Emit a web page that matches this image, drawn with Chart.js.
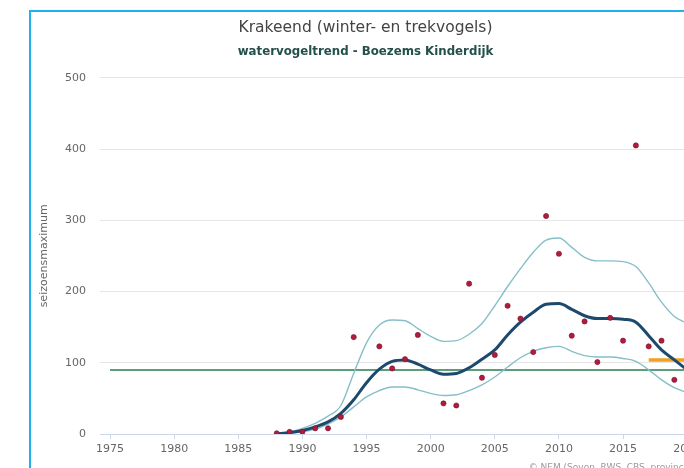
<!DOCTYPE html>
<html>
<head>
<meta charset="utf-8">
<script src="https://cdn.jsdelivr.net/npm/chart.js@4/dist/chart.umd.min.js"></script>
<style>
  html, body { margin: 0; padding: 0; background: #fff; overflow: hidden; }
  #box {
    position: absolute; left: 29px; top: 10px;
    width: 682px; height: 470px;
    border: 2px solid #1eb1ee; box-sizing: border-box;
  }
  #box canvas { position: absolute; left: 0; top: 0; }
  #credits {
    position: absolute; right: 9px; top: 450px;
    font: 9px "DejaVu Sans", sans-serif; color: #999; white-space: nowrap;
  }
</style>
</head>
<body>
<div id="box">
  <canvas id="trendChart"></canvas>
  <div id="credits">© NEM (Sovon, RWS, CBS, provincies)</div>
</div>
<script>
// seizoensmaxima per jaar (telling)
const countYears = [1988, 1989, 1990, 1991, 1992, 1993, 1994, 1996, 1997, 1998, 1999,
  2001, 2002, 2003, 2004, 2005, 2006, 2007, 2008, 2009, 2010,
  2011, 2012, 2013, 2014, 2015, 2016, 2017, 2018, 2019];
const counts = [1, 3, 3, 8, 8, 24, 136, 123, 92, 105, 139,
  43, 40, 211, 79, 111, 180, 162, 115, 306, 253,
  138, 158, 101, 163, 131, 405, 123, 131, 76];

// trendlijn met betrouwbaarheidsband
const trendYears = [1988, 1989, 1990, 1991, 1992, 1993, 1994, 1995, 1996, 1997, 1998, 1999,
  2000, 2001, 2002, 2003, 2004, 2005, 2006, 2007, 2008, 2009, 2010,
  2011, 2012, 2013, 2014, 2015, 2016, 2017, 2018, 2019, 2020];
const trend = [0, 2, 5, 10, 17, 29, 48, 72, 91, 102, 104, 98,
  90, 84, 85, 93, 105, 118, 139, 157, 171, 182, 183,
  175, 166, 162, 162, 161, 157, 138, 118, 104, 90];
const upper = [0, 3, 8, 15, 25, 40, 85, 128, 153, 160, 159, 148,
  137, 130, 131, 140, 155, 180, 207, 232, 255, 272, 275,
  262, 248, 243, 243, 242, 235, 212, 185, 165, 155];
const lower = [0, 1, 3, 7, 14, 24, 38, 52, 61, 66, 66, 62,
  57, 54, 55, 61, 69, 80, 94, 107, 116, 121, 123,
  116, 110, 108, 108, 106, 102, 90, 76, 65, 58];

// referentieniveau en recent gemiddelde
const refYears = [1975, 2021];
const refLevel = [90, 90];
const recentYears = [2017, 2021];
const recentLevel = [104, 104];

const pts = (xs, ys) => xs.map((x, i) => ({ x: x, y: ys[i] }));
const fontFam = '"DejaVu Sans", Verdana, sans-serif';

new Chart(document.getElementById('trendChart'), {
  type: 'line',
  data: {
    datasets: [
      {
        type: 'scatter',
        data: pts(countYears, counts),
        showLine: false,
        pointRadius: 2.6,
        pointBackgroundColor: '#b01c3c',
        pointBorderColor: '#7a1030',
        pointBorderWidth: 0.6,
        order: 0
      },
      {
        data: pts(trendYears, trend),
        borderColor: '#1d4a6c',
        borderWidth: 3,
        pointRadius: 0,
        cubicInterpolationMode: 'monotone',
        order: 1
      },
      {
        data: pts(trendYears, upper),
        borderColor: '#86bfc8',
        borderWidth: 1.4,
        pointRadius: 0,
        cubicInterpolationMode: 'monotone',
        order: 2
      },
      {
        data: pts(trendYears, lower),
        borderColor: '#86bfc8',
        borderWidth: 1.4,
        pointRadius: 0,
        cubicInterpolationMode: 'monotone',
        order: 2
      },
      {
        data: pts(recentYears, recentLevel),
        borderColor: '#f0a21e',
        borderWidth: 3.5,
        pointRadius: 0,
        order: 2
      },
      {
        data: pts(refYears, refLevel),
        borderColor: '#5e9c7c',
        borderWidth: 2,
        pointRadius: 0,
        order: 3
      }
    ]
  },
  options: {
    responsive: true,
    maintainAspectRatio: false,
    animation: false,
    layout: { padding: { left: 0, right: 9, top: 0, bottom: 14 } },
    plugins: {
      legend: { display: false },
      tooltip: { enabled: false },
      title: {
        display: true,
        text: 'Krakeend (winter- en trekvogels)',
        color: '#444',
        font: { family: fontFam, size: 15.5, weight: 'normal' },
        padding: { top: 7, bottom: 0 }
      },
      subtitle: {
        display: true,
        text: 'watervogeltrend - Boezems Kinderdijk',
        color: '#24504c',
        font: { family: fontFam, size: 11.8, weight: 'bold' },
        padding: { top: 7, bottom: 19 }
      }
    },
    scales: {
      x: {
        type: 'linear',
        min: 1974.22,
        max: 2021,
        ticks: {
          stepSize: 5,
          includeBounds: false,
          padding: 4,
          color: '#666',
          font: { family: fontFam, size: 11 },
          callback: v => String(v)
        },
        grid: { drawOnChartArea: false, drawTicks: true, tickLength: 5, color: '#ccd6eb' },
        border: { color: '#ccd6eb' },
        afterFit: s => { s.height = 30; }
      },
      y: {
        min: 0,
        max: 500,
        ticks: {
          stepSize: 100,
          padding: 14,
          color: '#666',
          font: { family: fontFam, size: 11 }
        },
        grid: { color: '#e6e6e6', drawTicks: false },
        border: { display: false },
        title: {
          display: true,
          text: 'seizoensmaximum',
          color: '#666',
          font: { family: fontFam, size: 11 },
          padding: { top: 7, bottom: 0 }
        },
        afterFit: s => { s.width = 69; }
      }
    }
  }
});
</script>
</body>
</html>
